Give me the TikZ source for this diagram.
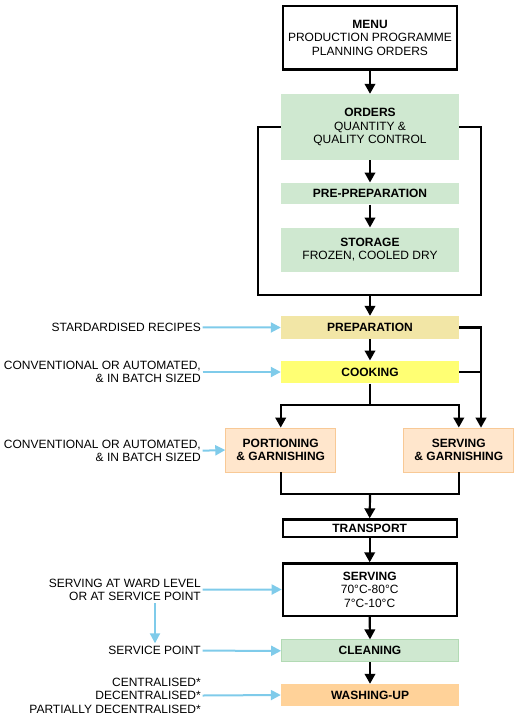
\documentclass[tikz,border=0pt]{standalone}
\usepackage{fontspec}
\setmainfont{Liberation Sans}
\usetikzlibrary{arrows.meta}
\definecolor{gfill}{RGB}{207,232,208}
\definecolor{gline}{RGB}{178,218,180}
\definecolor{pfill}{RGB}{242,230,166}
\definecolor{cfill}{RGB}{255,255,115}
\definecolor{ofill}{RGB}{255,230,204}
\definecolor{oline}{RGB}{248,201,150}
\definecolor{wfill}{RGB}{255,210,153}
\definecolor{bluearr}{RGB}{127,203,234}
\tikzset{
  base/.style={inner sep=0pt, align=center, font=\fontsize{12}{13.4}\selectfont},
  blackbox/.style={base, draw=black, line width=2.2pt, fill=white},
  greenbox/.style={base, fill=gfill, minimum width=178pt},
  prepbox/.style={base, fill=pfill, minimum width=178pt},
  cookbox/.style={base, fill=cfill, minimum width=178pt},
  orangebox/.style={base, fill=ofill, draw=oline, line width=0.8pt, minimum width=110pt, minimum height=44pt},
  cleanbox/.style={base, fill=gfill, draw=gline, line width=0.8pt, minimum width=177pt, minimum height=22pt},
  washbox/.style={base, fill=wfill, minimum width=178pt, minimum height=22pt},
  lbl/.style={base, anchor=east, align=right},
  blk/.style={line width=2.2pt, black},
  blkarr/.style={blk, -{Triangle[length=10pt,width=10.5pt]}},
  bluea/.style={line width=2pt, bluearr, -{Triangle[length=10pt,width=10pt]}},
}
\begin{document}
\begin{tikzpicture}[x=1pt, y=-1pt]
\useasboundingbox (0,0) rectangle (519,720);

% main column
\node[blackbox, minimum width=174.4pt, minimum height=63.5pt] (menu) at (370,37.8)
  {\textbf{MENU}\\PRODUCTION PROGRAMME\\PLANNING ORDERS};
\node[greenbox, minimum height=66pt] (orders) at (370,127)
  {\textbf{ORDERS}\\QUANTITY \&\\QUALITY CONTROL};
\node[greenbox, minimum height=21.6pt] (prepre) at (370,193.5) {\textbf{PRE-PREPARATION}};
\node[greenbox, minimum height=44pt] (storage) at (370,249.7)
  {\textbf{STORAGE}\\FROZEN, COOLED DRY};
\node[prepbox, minimum height=23pt] (prep) at (370,327.5) {\textbf{PREPARATION}};
\node[cookbox, minimum height=22.6pt] (cook) at (370,372) {\textbf{COOKING}};
\node[orangebox] (portion) at (280.7,450) {\textbf{PORTIONING}\\\textbf{\& GARNISHING}};
\node[orangebox] (servg) at (458.8,450) {\textbf{SERVING}\\\textbf{\& GARNISHING}};
\node[blackbox, minimum width=173.8pt, minimum height=17.8pt] (transport) at (369.7,528.3) {\textbf{TRANSPORT}};
\node[blackbox, minimum width=173.8pt, minimum height=52.2pt] (serving) at (369.7,589.5)
  {\textbf{SERVING}\\70°C-80°C\\7°C-10°C};
\node[cleanbox] (clean) at (370,650.8) {\textbf{CLEANING}};
\node[washbox] (wash) at (370,695) {\textbf{WASHING-UP}};

% left labels
\node[lbl] (l1) at (201,327.3) {STARDARDISED RECIPES};
\node[lbl] (l2) at (201,372) {CONVENTIONAL OR AUTOMATED,\\\& IN BATCH SIZED};
\node[lbl] (l3) at (201,450.7) {CONVENTIONAL OR AUTOMATED,\\\& IN BATCH SIZED};
\node[lbl] (l4) at (201,589.7) {SERVING AT WARD LEVEL\\OR AT SERVICE POINT};
\node[lbl] (l5) at (201,650.7) {SERVICE POINT};
\node[lbl] (l6) at (201,695.5) {CENTRALISED*\\DECENTRALISED*\\PARTIALLY DECENTRALISED*};

% coordinates
\coordinate (LL) at (258.3,295);
\coordinate (LR) at (481,295);
\coordinate (LB) at (370,295);
\coordinate (RR) at (481,327.5);
\coordinate (RB) at (481,427.7);
\coordinate (SP) at (370,405.3);
\coordinate (SPL) at (280.7,405.3);
\coordinate (SPR) at (458.8,405.3);
\coordinate (MG) at (370,494.3);
\coordinate (MGL) at (280.7,494.3);
\coordinate (MGR) at (458.8,494.3);
\coordinate (VB1) at (155,603.3);
\coordinate (VB2) at (155,643.3);

% black connectors
\draw[blkarr] (menu.south) -- (orders.north);
\draw[blkarr] (orders.south) -- (prepre.north);
\draw[blkarr] (prepre.south) -- (storage.north);
\draw[blk] (orders.west) -| (LL) -- (LR) |- (orders.east);
\draw[blkarr] (LB) -- (prep.north);
\draw[blkarr] (prep.south) -- (cook.north);
\draw[blkarr] (prep.east) -- (RR) -- (RB);
\draw[blk] (cook.east) -- (cook.east -| RR);
\draw[blk] (cook.south) -- (SP);
\draw[blkarr] (SP) -| (portion.north);
\draw[blkarr] (SP) -| (servg.north);
\draw[blk] (portion.south) -- (MGL) -- (MGR) -- (servg.south);
\draw[blkarr] (MG) -- (transport.north);
\draw[blkarr] (transport.south) -- (serving.north);
\draw[blkarr] (serving.south) -- (clean.north);
\draw[blkarr] (clean.south) -- (wash.north);

% blue connectors
\draw[bluea] (l1.east) ++(1.7,0) -- (prep.west);
\draw[bluea] (l2.east) ++(1.7,0) -- (cook.west);
\draw[bluea] (l3.east) ++(1.7,0) -- (portion.west);
\draw[bluea] (l4.east) ++(1.7,0) -- (serving.west);
\draw[bluea] (l5.east) ++(1.7,0) -- (clean.west);
\draw[bluea] (l6.east) ++(1.7,0) -- (wash.west);
\draw[bluea] (VB1) -- (VB2);
\end{tikzpicture}
\end{document}
